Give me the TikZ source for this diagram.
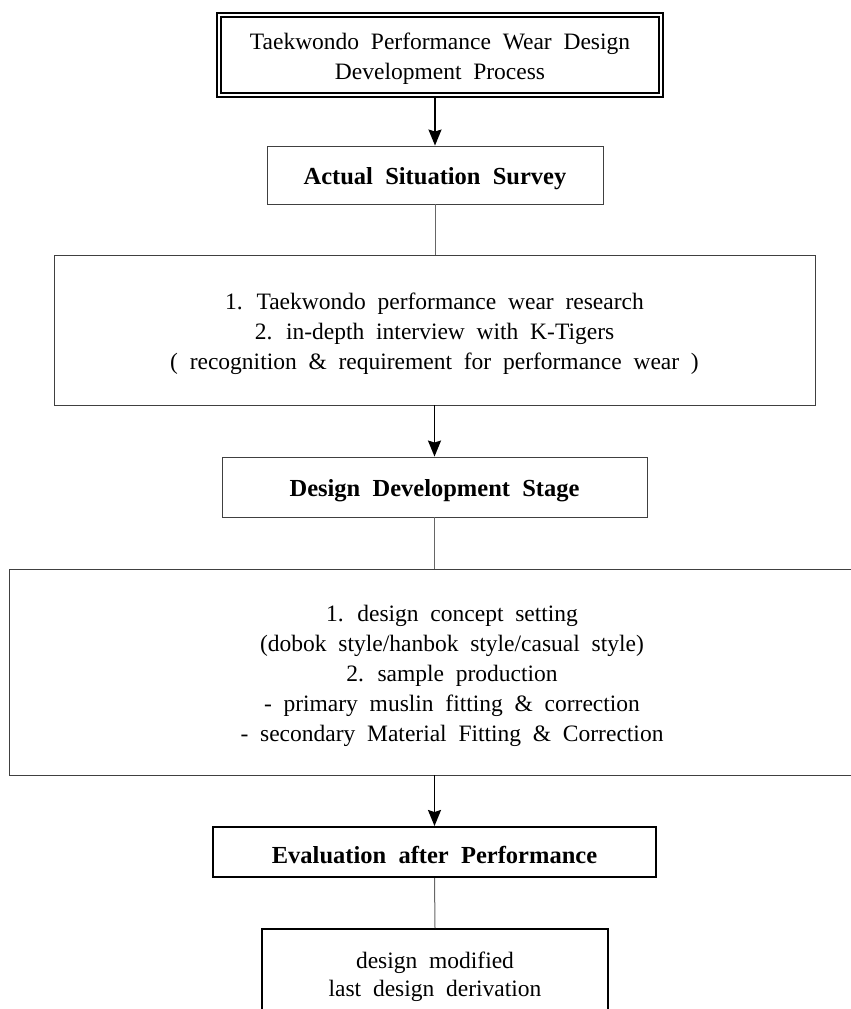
\documentclass[tikz,border=0pt]{standalone}
\usepackage{fontspec}
\setmainfont{Liberation Serif}[WordSpace=2.0]
\usetikzlibrary{arrows.meta}
\newcommand{\lowerstrut}{\rule{0pt}{24pt}}
\tikzset{
  box/.style={draw=black!75, line width=0.9pt, inner sep=0pt, align=center, font=\fontsize{23.5}{30}\selectfont},
  head/.style={box, font=\fontsize{24.5}{28}\selectfont\bfseries},
  thickbox/.style={draw=black, line width=2pt},
  arr/.style={line width=1.8pt, -{Stealth[length=16pt,width=13pt,inset=2pt]}},
  link/.style={draw=black!60, line width=1pt}
}
\begin{document}
\begin{tikzpicture}[x=1pt,y=-1pt]
\useasboundingbox[fill=white] (0,0) rectangle (851,1009);
\node[box, draw=black, line width=2.2pt, double, double distance=2pt, minimum width=442pt, minimum height=80pt] (top) at (440,55)
  {\lowerstrut Taekwondo Performance Wear Design\\Development Process};
\node[head, minimum width=336pt, minimum height=58pt] (s1) at (435,175) {\lowerstrut Actual Situation Survey};
\node[box, minimum width=761pt, minimum height=150pt] (d1) at (434.5,330)
  {\lowerstrut 1. Taekwondo performance wear research\\2. in-depth interview with K-Tigers\\( recognition \& requirement for performance wear )};
\node[head, minimum width=425pt, minimum height=60pt] (s2) at (434.5,487) {\lowerstrut Design Development Stage};
\node[box, minimum width=886pt, minimum height=206pt] (d2) at (452,672)
  {\lowerstrut 1. design concept setting\\(dobok style/hanbok style/casual style)\\2. sample production\\- primary muslin fitting \& correction\\- secondary Material Fitting \& Correction};
\node[head, thickbox, minimum width=443pt, minimum height=50pt] (s3) at (434.5,852) {\lowerstrut Evaluation after Performance};
\node[box, thickbox, minimum width=346pt, minimum height=88pt, font=\fontsize{23.5}{28}\selectfont] (d3) at (435,973)
  {\lowerstrut design modified\\last design derivation};
\draw[arr] (top.south -| s1.north) -- (s1.north);
\draw[link] (s1.south) -- (s1.south |- d1.north);
\draw[arr] (s2.north |- d1.south) -- (s2.north);
\draw[link] (s2.south) -- (s2.south |- d2.north);
\draw[arr] (s3.north |- d2.south) -- (s3.north);
\draw[link] (s3.south) -- (d3.north);
\end{tikzpicture}
\end{document}
